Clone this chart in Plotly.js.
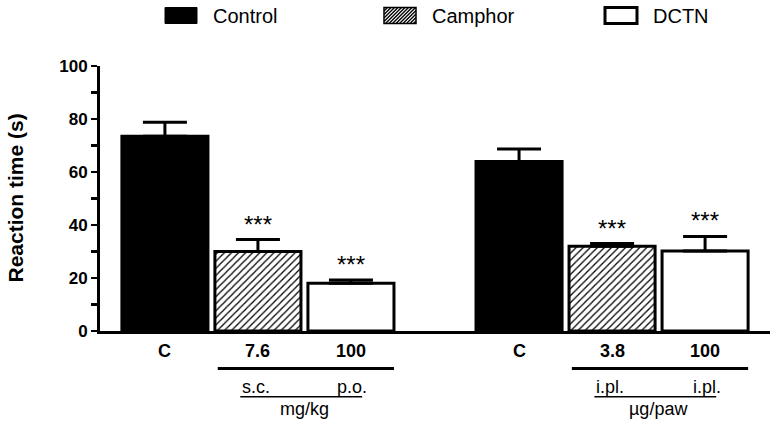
<!DOCTYPE html>
<html><head><meta charset="utf-8">
<script src="https://cdn.plot.ly/plotly-3.0.1.min.js"></script>
<style>html,body{margin:0;padding:0;background:#fff}</style>
</head><body><div id="chart" style="width:777px;height:427px"></div>
<script>
// ---- data ----
const groupIndex = [0, 1];
const seriesNames = ['Control', 'Camphor', 'DCTN'];
const controlMean = [73.5, 64.0];
const controlSem = [5.3, 4.7];
const camphorMean = [30.0, 32.0];
const camphorSem = [4.5, 1.0];
const dctnMean = [18.0, 30.2];
const dctnSem = [1.2, 5.5];
const doseLabels = [['C', '7.6', '100'], ['C', '3.8', '100']];
const routeLabels = [['s.c.', 'p.o.'], ['i.pl.', 'i.pl.']];
const unitLabels = ['mg/kg', 'µg/paw'];
const significance = [['', '***', '***'], ['', '***', '***']];
const yTicks = [0, 20, 40, 60, 80, 100];

// ---- geometry / style ----
const FONT = 'Liberation Sans, Arial, Helvetica, sans-serif';
const W = 777, H = 427;
const M = {l: 100, r: 7, t: 66, b: 96};
const plotW = W - M.l - M.r, plotH = H - M.t - M.b;
const bargap = 0.212, bargroupgap = 0.075;
const slot = (1 - bargap) / 3;
const barHalf = slot * (1 - bargroupgap) / 2;

const means = [controlMean, camphorMean, dctnMean];
const sems = [controlSem, camphorSem, dctnSem];
const fills = [
  {color: '#000000'},
  {color: '#ffffff', pattern: {shape: '/', fgcolor: '#000000', bgcolor: '#ffffff', size: 5, solidity: 0.25}},
  {color: '#ffffff'}
];

const traces = seriesNames.map((name, s) => ({
  type: 'bar', name: name, x: groupIndex, y: means[s],
  marker: Object.assign({line: {color: '#000', width: 3}}, fills[s]),
  error_y: {type: 'data', symmetric: false, array: sems[s], arrayminus: sems[s].map(() => 0),
            color: '#000', thickness: 3, width: 22},
  hoverinfo: 'skip', showlegend: false
}));

const annotations = [];
const shapes = [];
function below(px) { return -px / plotH; }
function px2x(px) { return (px - M.l) / plotW; }
function px2y(py) { return 1 + (M.t - py) / plotH; }

groupIndex.forEach(g => {
  for (let i = 0; i < 3; i++) {
    const bx = g + (i - 1) * slot;
    annotations.push({x: bx, xref: 'x', y: 0, yref: 'paper', yanchor: 'middle', yshift: -20,
      text: doseLabels[g][i], showarrow: false,
      font: {family: FONT, size: 18, color: '#000', weight: 'bold'}});
    if (significance[g][i]) {
      annotations.push({x: bx, xref: 'x', y: means[i][g] + sems[i][g], yref: 'y', yanchor: 'bottom', yshift: 0,
        text: significance[g][i], showarrow: false,
        font: {family: FONT, size: 24, color: '#000'}});
    }
  }
  shapes.push({type: 'line', xref: 'x', yref: 'paper',
    x0: g - barHalf + 0.008, x1: g + slot + barHalf, y0: below(37.5), y1: below(37.5),
    line: {color: '#000', width: 3}});
  shapes.push({type: 'line', xref: 'x', yref: 'paper',
    x0: g - 0.19 * slot, x1: g + 1.12 * slot, y0: below(65.7), y1: below(65.7),
    line: {color: '#000', width: 1.5}});
  annotations.push({x: g - 0.194 * slot, xref: 'x', xanchor: 'left', y: 0, yref: 'paper', yanchor: 'middle', yshift: -55.5,
    text: routeLabels[g][0], showarrow: false, font: {family: FONT, size: 18, color: '#000'}});
  annotations.push({x: g + 1.194 * slot, xref: 'x', xanchor: 'right', y: 0, yref: 'paper', yanchor: 'middle', yshift: -55.5,
    text: routeLabels[g][1], showarrow: false, font: {family: FONT, size: 18, color: '#000'}});
  annotations.push({x: g + slot / 2, xref: 'x', y: 0, yref: 'paper', yanchor: 'middle', yshift: -78,
    text: unitLabels[g], showarrow: false, font: {family: FONT, size: 18, color: '#000'}});
});

annotations.push({x: px2x(15), xref: 'paper', xanchor: 'center', y: 0.5, yref: 'paper', yanchor: 'middle',
  textangle: -90, text: '<b>Reaction time (s)</b>', showarrow: false,
  font: {family: FONT, size: 21, color: '#000'}});

// ---- legend (drawn in the top margin) ----
const legendSwatchLeft = [165, 384, 605];
const swW = 32, swTop = 7.5, swBot = 23.5;
seriesNames.forEach((name, s) => {
  const x0 = legendSwatchLeft[s], x1 = x0 + swW;
  const style = s === 0 ? {fillcolor: '#000', line: {color: '#000', width: 1}}
              : s === 1 ? {fillcolor: '#fff', line: {color: '#000', width: 1.5}}
              : {fillcolor: '#fff', line: {color: '#000', width: 3}};
  shapes.push(Object.assign({type: 'rect', xref: 'paper', yref: 'paper',
    x0: px2x(x0), x1: px2x(x1), y0: px2y(swBot), y1: px2y(swTop), layer: 'above'}, style));
  if (s === 1) {
    const h = swBot - swTop, step = 3.5;
    let d = '';
    for (let k = x0 - h; k < x1; k += step) {
      let ax = k, ay = swBot, bx = k + h, by = swTop;
      if (ax < x0) { ay = swBot - (x0 - ax); ax = x0; }
      if (bx > x1) { by = swTop + (bx - x1); bx = x1; }
      if (bx <= ax) continue;
      d += `M${px2x(ax)},${px2y(ay)}L${px2x(bx)},${px2y(by)}`;
    }
    shapes.push({type: 'path', xref: 'paper', yref: 'paper', path: d, layer: 'above',
      line: {color: '#000', width: 1.4}});
  }
  annotations.push({x: px2x(x1 + 14), xref: 'paper', xanchor: 'left', y: px2y(16), yref: 'paper', yanchor: 'middle',
    text: name, showarrow: false, font: {family: FONT, size: 20, color: '#000'}});
});

const layout = {
  width: W, height: H,
  margin: {l: M.l, r: M.r, t: M.t, b: M.b, pad: 0},
  paper_bgcolor: '#fff', plot_bgcolor: '#fff',
  barmode: 'group', bargap: bargap, bargroupgap: bargroupgap,
  showlegend: false,
  xaxis: {range: [-0.446, 1.446], showline: true, linecolor: '#000', linewidth: 3,
    showticklabels: false, ticks: '', showgrid: false, zeroline: false, fixedrange: true},
  yaxis: {range: [0, 100], showline: true, linecolor: '#000', linewidth: 3,
    tickvals: yTicks, ticks: 'outside', ticklen: 6, tickwidth: 2.5, tickcolor: '#000',
    minor: {dtick: 10, ticks: 'outside', ticklen: 6, tickwidth: 2.5, tickcolor: '#000'},
    tickfont: {family: FONT, size: 17, color: '#000', weight: 'bold'},
    showgrid: false, zeroline: false, fixedrange: true},
  annotations: annotations,
  shapes: shapes
};

Plotly.newPlot('chart', traces, layout, {staticPlot: true, displayModeBar: false});
</script>
</body></html>
